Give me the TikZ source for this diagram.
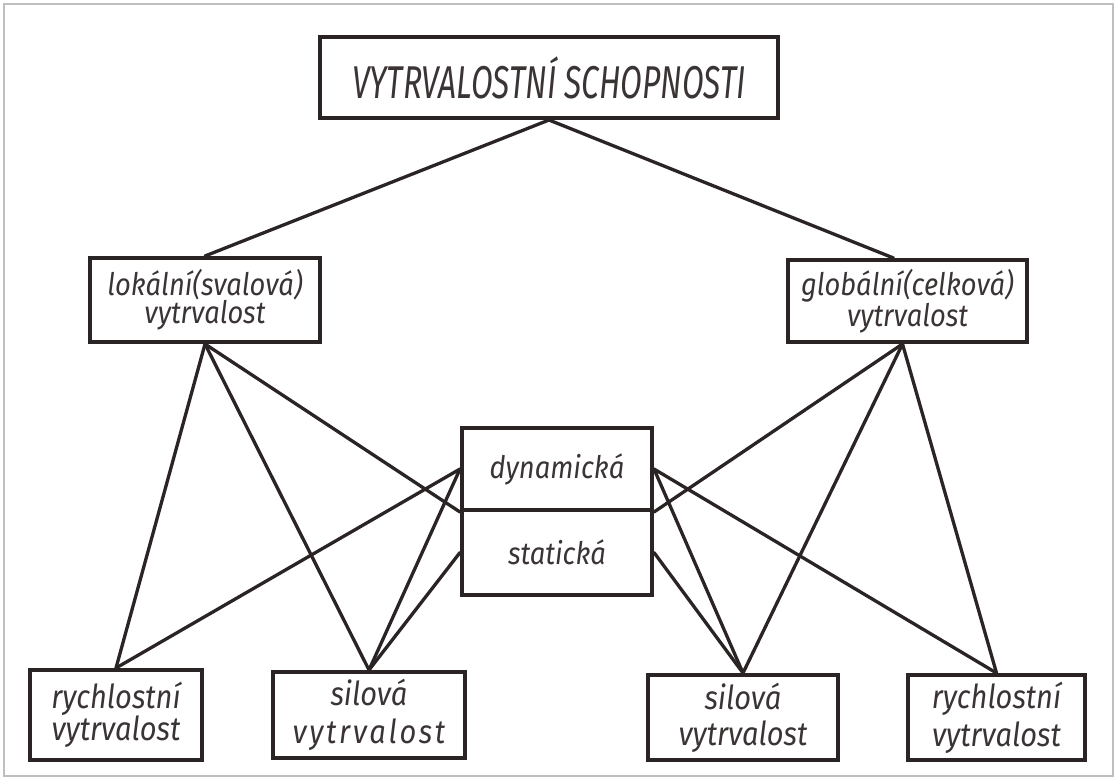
\documentclass[tikz,border=0pt]{standalone}
\usepackage{fontspec}
\newfontfamily\diagfont{Fira Sans}[FakeStretch=0.88]
\newfontfamily\diagcaps{Fira Sans}[FakeStretch=0.69]
\definecolor{ink}{HTML}{2B2424}
\definecolor{txt}{HTML}{3A3434}
\begin{document}
\begin{tikzpicture}[x=1pt,y=-1pt,
  box/.style={draw=ink, line width=4pt, rectangle, inner sep=0pt, align=center,
    text=txt, font=\diagfont\itshape\fontsize{31}{28}\selectfont},
  lowbox/.style={box, font=\diagfont\itshape\fontsize{33}{#1}\selectfont},
  link/.style={draw=ink, line width=3.3pt, line cap=round}]
\fill[white] (0,0) rectangle (1117,780);
\useasboundingbox (0,0) rectangle (1117,780);
\draw[black!25, line width=1.5pt] (4,4) rectangle (1113,776);

\node[box, minimum width=458pt, minimum height=81pt, font=\diagcaps\itshape\fontsize{46}{46}\selectfont] (top) at (549,77.5) {VYTRVALOSTNÍ SCHOPNOSTI};

\node[box, minimum width=230pt, minimum height=84pt] (L) at (205,300) {lokální(svalová)\\vytrvalost};
\node[box, minimum width=239pt, minimum height=82pt] (R) at (907.5,301) {globální(celková)\\vytrvalost};

\node[box, minimum width=190pt, minimum height=82pt] (dyn) at (557,469) {dynamická};
\node[box, minimum width=190pt, minimum height=85pt] (stat) at (557,552.5) {statická};

\node[lowbox=32, minimum width=172pt, minimum height=90pt] (B1) at (116,715) {rychlostní\\vytrvalost};
\node[lowbox=38, minimum width=192pt, minimum height=86pt] (B2) at (369,715) {silová\\{\addfontfeature{LetterSpace=8}vytrvalost}};
\node[lowbox=36, minimum width=190pt, minimum height=85pt] (B3) at (743,717.5) {silová\\vytrvalost};
\node[lowbox=38, minimum width=177pt, minimum height=85pt] (B4) at (996.5,717.5) {rychlostní\\vytrvalost};

\coordinate (Rn) at ([xshift=-14pt]R.north);
\coordinate (Rs) at ([xshift=-5pt]R.south);

\draw[link] (top.south) -- (L.north);
\draw[link] (top.south) -- (Rn);

\draw[link] (L.south) -- (B1.north);
\draw[link] (L.south) -- (B2.north);
\draw[link] (L.south) -- (dyn.south west);

\draw[link] (Rs) -- (B4.north);
\draw[link] (Rs) -- (B3.north);
\draw[link] (Rs) -- (dyn.south east);

\draw[link] (B1.north) -- (dyn.west);
\draw[link] (B2.north) -- (dyn.west);
\draw[link] (B2.north) -- (stat.west);

\draw[link] (B3.north) -- (dyn.east);
\draw[link] (B4.north) -- (dyn.east);
\draw[link] (B3.north) -- (stat.east);
\end{tikzpicture}
\end{document}
